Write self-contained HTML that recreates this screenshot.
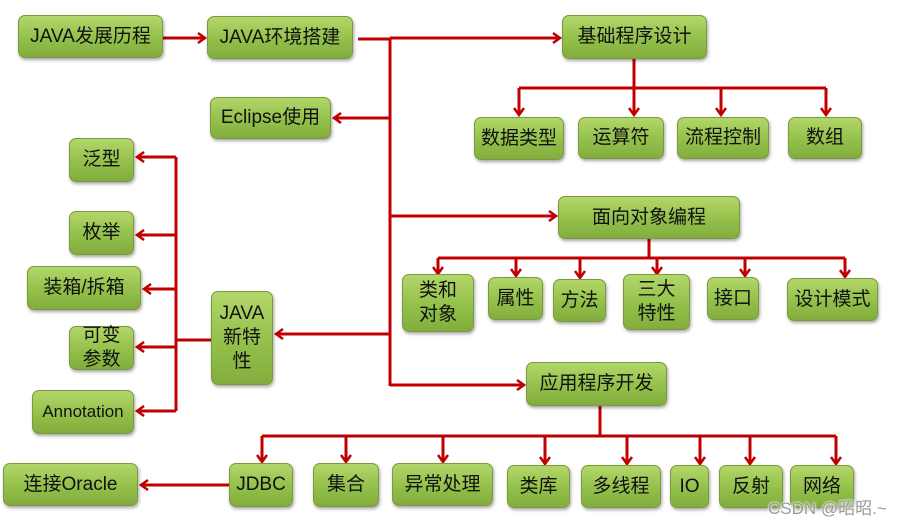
<!DOCTYPE html>
<html><head><meta charset="utf-8"><style>
body{margin:0;width:919px;height:524px;background:#fff;position:relative;overflow:hidden;font-family:"Liberation Sans","Noto Sans CJK SC",sans-serif}
.b{position:absolute;box-sizing:border-box;border-radius:7px;border:1px solid #7a9a3c;background:linear-gradient(#b3d66a,#93c04a 55%,#82ad3e);box-shadow:1px 2px 3px rgba(0,0,0,.35);display:flex;align-items:center;justify-content:center;text-align:center;font-size:19px;color:#111;line-height:24px}
svg{position:absolute;left:0;top:0}
.wm{position:absolute;left:768px;top:494px;font-size:17px;color:#999;text-shadow:0 0 2px #fff,0 0 2px #fff}
</style></head><body>
<svg width="919" height="524"><defs><marker id="a" markerWidth="12" markerHeight="12" refX="9" refY="6" orient="auto" markerUnits="userSpaceOnUse"><polyline points="2,1 9,6 2,11" fill="none" stroke="#c00000" stroke-width="2.5"/></marker></defs>
<g stroke="#c00000" stroke-width="3" fill="none">
<line x1="163" y1="38" x2="205" y2="38" marker-end="url(#a)"/>
<line x1="358" y1="39" x2="390" y2="39"/><line x1="390" y1="39" x2="390" y2="386"/>
<line x1="390" y1="38" x2="560" y2="38" marker-end="url(#a)"/>
<line x1="390" y1="118" x2="334" y2="118" marker-end="url(#a)"/>
<line x1="390" y1="216" x2="556" y2="216" marker-end="url(#a)"/>
<line x1="390" y1="334" x2="276" y2="334" marker-end="url(#a)"/>
<line x1="390" y1="385" x2="524" y2="385" marker-end="url(#a)"/>
<line x1="634" y1="59" x2="634" y2="88"/><line x1="519" y1="88" x2="826" y2="88"/>
<line x1="519" y1="88" x2="519" y2="115" marker-end="url(#a)"/><line x1="634" y1="88" x2="634" y2="115" marker-end="url(#a)"/><line x1="721" y1="88" x2="721" y2="115" marker-end="url(#a)"/><line x1="826" y1="88" x2="826" y2="115" marker-end="url(#a)"/>
<line x1="649" y1="239" x2="649" y2="258"/><line x1="438" y1="258" x2="845" y2="258"/>
<line x1="438" y1="258" x2="438" y2="274" marker-end="url(#a)"/><line x1="516" y1="258" x2="516" y2="276" marker-end="url(#a)"/><line x1="580" y1="258" x2="580" y2="278" marker-end="url(#a)"/><line x1="657" y1="258" x2="657" y2="274" marker-end="url(#a)"/><line x1="745" y1="258" x2="745" y2="276" marker-end="url(#a)"/><line x1="845" y1="258" x2="845" y2="277" marker-end="url(#a)"/>
<line x1="600" y1="406" x2="600" y2="436"/><line x1="262" y1="436" x2="836" y2="436"/>
<line x1="262" y1="436" x2="262" y2="462" marker-end="url(#a)"/><line x1="346" y1="436" x2="346" y2="462" marker-end="url(#a)"/><line x1="443" y1="436" x2="443" y2="462" marker-end="url(#a)"/><line x1="545" y1="436" x2="545" y2="464" marker-end="url(#a)"/><line x1="627" y1="436" x2="627" y2="464" marker-end="url(#a)"/><line x1="700" y1="436" x2="700" y2="464" marker-end="url(#a)"/><line x1="750" y1="436" x2="750" y2="464" marker-end="url(#a)"/><line x1="836" y1="436" x2="836" y2="464" marker-end="url(#a)"/>
<line x1="229" y1="485" x2="141" y2="485" marker-end="url(#a)"/>
<line x1="211" y1="340" x2="176" y2="340"/><line x1="176" y1="157" x2="176" y2="411"/>
<line x1="176" y1="157" x2="137" y2="157" marker-end="url(#a)"/><line x1="176" y1="235" x2="137" y2="235" marker-end="url(#a)"/><line x1="176" y1="289" x2="144" y2="289" marker-end="url(#a)"/><line x1="176" y1="347" x2="137" y2="347" marker-end="url(#a)"/><line x1="176" y1="411" x2="137" y2="411" marker-end="url(#a)"/>
</g></svg>
<div class="b" style="left:18px;top:15px;width:145px;height:43px">JAVA发展历程</div>
<div class="b" style="left:207px;top:16px;width:146px;height:43px">JAVA环境搭建</div>
<div class="b" style="left:562px;top:15px;width:145px;height:44px">基础程序设计</div>
<div class="b" style="left:210px;top:97px;width:121px;height:42px">Eclipse使用</div>
<div class="b" style="left:474px;top:117px;width:90px;height:43px">数据类型</div>
<div class="b" style="left:578px;top:117px;width:86px;height:42px">运算符</div>
<div class="b" style="left:677px;top:117px;width:92px;height:42px">流程控制</div>
<div class="b" style="left:788px;top:117px;width:74px;height:42px">数组</div>
<div class="b" style="left:69px;top:138px;width:65px;height:44px">泛型</div>
<div class="b" style="left:69px;top:211px;width:65px;height:44px">枚举</div>
<div class="b" style="left:27px;top:266px;width:114px;height:44px">装箱/拆箱</div>
<div class="b" style="left:69px;top:326px;width:65px;height:44px">可变<br>参数</div>
<div class="b" style="left:32px;top:390px;width:102px;height:44px;font-size:17px">Annotation</div>
<div class="b" style="left:558px;top:196px;width:182px;height:43px">面向对象编程</div>
<div class="b" style="left:211px;top:291px;width:62px;height:94px">JAVA<br>新特<br>性</div>
<div class="b" style="left:402px;top:274px;width:72px;height:58px">类和<br>对象</div>
<div class="b" style="left:488px;top:277px;width:55px;height:43px">属性</div>
<div class="b" style="left:553px;top:279px;width:53px;height:43px">方法</div>
<div class="b" style="left:623px;top:274px;width:67px;height:56px">三大<br>特性</div>
<div class="b" style="left:707px;top:277px;width:52px;height:43px">接口</div>
<div class="b" style="left:787px;top:278px;width:91px;height:43px">设计模式</div>
<div class="b" style="left:526px;top:362px;width:141px;height:44px">应用程序开发</div>
<div class="b" style="left:3px;top:463px;width:135px;height:43px">连接Oracle</div>
<div class="b" style="left:229px;top:463px;width:64px;height:44px">JDBC</div>
<div class="b" style="left:313px;top:463px;width:66px;height:44px">集合</div>
<div class="b" style="left:392px;top:463px;width:101px;height:43px">异常处理</div>
<div class="b" style="left:507px;top:465px;width:63px;height:43px">类库</div>
<div class="b" style="left:581px;top:465px;width:80px;height:43px">多线程</div>
<div class="b" style="left:670px;top:465px;width:39px;height:43px">IO</div>
<div class="b" style="left:719px;top:465px;width:64px;height:43px">反射</div>
<div class="b" style="left:790px;top:465px;width:64px;height:43px">网络</div>
<div class="wm">CSDN @昭昭.~</div>
</body></html>
